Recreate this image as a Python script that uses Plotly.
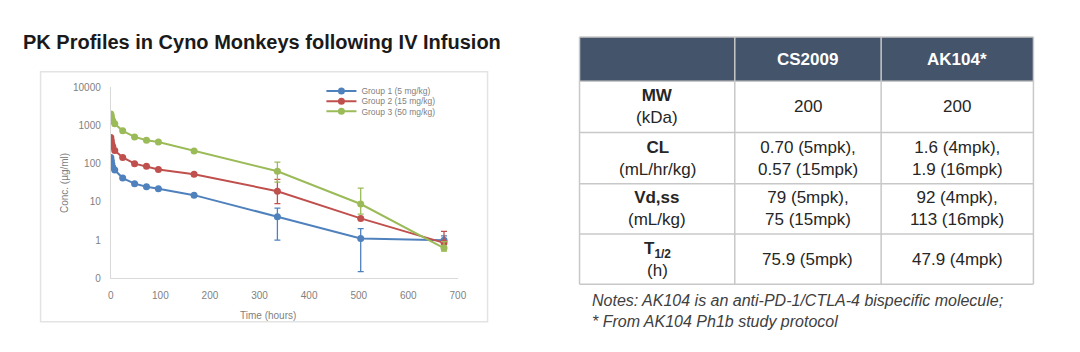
import plotly.graph_objects as go

# ---- Data ----
time_h = [0.083, 1, 2, 4, 8, 24, 48, 72, 96, 168, 336, 504, 672]
group_names = ["Group 1 (5 mg/kg)", "Group 2 (15 mg/kg)", "Group 3 (50 mg/kg)"]
g1_conc = [145, 120, 100, 80, 68, 42, 30, 25, 22, 15, 4.1, 1.1, 1.0]
g2_conc = [480, 400, 330, 280, 220, 145, 100, 85, 70, 53, 19, 3.7, 0.85]
g3_conc = [2000, 1750, 1500, 1300, 1100, 720, 500, 410, 370, 215, 63, 8.8, 0.62]
g1_err_plus = [0, 0, 0, 0, 0, 0, 0, 0, 0, 0, 2.8, 0.9, 0.3]
g1_err_minus = [0, 0, 0, 0, 0, 0, 0, 0, 0, 0, 3.1, 0.95, 0.2]
g2_err_plus = [0, 0, 0, 0, 0, 0, 0, 0, 0, 0, 20, 0, 0.85]
g2_err_minus = [0, 0, 0, 0, 0, 0, 0, 0, 0, 0, 10, 0, 0.2]
g3_err_plus = [0, 0, 0, 0, 0, 0, 0, 0, 0, 0, 47, 14, 0.3]
g3_err_minus = [0, 0, 0, 0, 0, 0, 0, 0, 0, 0, 30, 4, 0.1]

y_tickvals = [0.1, 1, 10, 100, 1000, 10000]
y_ticktext = ["0", "1", "10", "100", "1000", "10000"]
x_tickvals = [0, 100, 200, 300, 400, 500, 600, 700]

table_header = ["", "CS2009", "AK104*"]
table_params = ["<b>MW</b><br>(kDa)", "<b>CL</b><br>(mL/hr/kg)",
                "<b>Vd,ss</b><br>(mL/kg)", "<b>T<sub>1/2</sub></b><br>(h)"]
table_cs2009 = ["200", "0.70 (5mpk),<br>0.57 (15mpk)",
                "79 (5mpk),<br>75 (15mpk)", "75.9 (5mpk)"]
table_ak104 = ["200", "1.6 (4mpk),<br>1.9 (16mpk)",
               "92 (4mpk),<br>113 (16mpk)", "47.9 (4mpk)"]

title_text = "PK Profiles in Cyno Monkeys following IV Infusion"
x_title = "Time (hours)"
y_title = "Conc. (µg/ml)"
notes_text = ("<i>Notes: AK104 is an anti-PD-1/CTLA-4 bispecific molecule;</i><br>"
              "<i>* From AK104 Ph1b study protocol</i>")

colors = ["#4F81BD", "#C0504D", "#9BBB59"]

W, H = 1080, 352
def px_x(p):
    return p / W
def px_y(p):
    return 1 - p / H

fig = go.Figure()
series = [(g1_conc, g1_err_plus, g1_err_minus),
          (g2_conc, g2_err_plus, g2_err_minus),
          (g3_conc, g3_err_plus, g3_err_minus)]
legend_ids = ["legend", "legend2", "legend3"]
for name, (vals, ep, em), c, lg in zip(group_names, series, colors, legend_ids):
    fig.add_trace(go.Scatter(
        x=time_h, y=vals, name=name, mode="lines+markers",
        line=dict(color=c, width=2), marker=dict(color=c, size=7),
        error_y=dict(type="data", array=ep, arrayminus=em, symmetric=False,
                     color=c, thickness=1.3, width=3),
        legend=lg))

# ---- Table drawn with shapes + annotations ----
tbl_x = [583, 740, 888, 1042]
tbl_y = [32, 78, 131, 184, 236, 288]
shapes = []
annotations = []
shapes.append(dict(type="rect", xref="paper", yref="paper",
                   x0=px_x(tbl_x[0]), x1=px_x(tbl_x[-1]),
                   y0=px_y(tbl_y[1]), y1=px_y(tbl_y[0]),
                   fillcolor="#44546A", line=dict(width=0), layer="below"))
cell_line = dict(color="#C8C8C8", width=1.5)
for yy in tbl_y:
    shapes.append(dict(type="line", xref="paper", yref="paper",
                       x0=px_x(tbl_x[0]), x1=px_x(tbl_x[-1]),
                       y0=px_y(yy), y1=px_y(yy), line=cell_line))
for xx in tbl_x:
    shapes.append(dict(type="line", xref="paper", yref="paper",
                       x0=px_x(xx), x1=px_x(xx),
                       y0=px_y(tbl_y[-1]), y1=px_y(tbl_y[0]), line=cell_line))

for j, txt in enumerate(table_header):
    if txt:
        annotations.append(dict(
            text="<b>" + txt + "</b>", xref="paper", yref="paper",
            x=px_x((tbl_x[j] + tbl_x[j + 1]) / 2), y=px_y((tbl_y[0] + tbl_y[1]) / 2),
            xanchor="center", yanchor="middle", showarrow=False,
            font=dict(size=17, color="white")))
columns = [table_params, table_cs2009, table_ak104]
for j, col in enumerate(columns):
    for i, txt in enumerate(col):
        annotations.append(dict(
            text=txt, xref="paper", yref="paper",
            x=px_x((tbl_x[j] + tbl_x[j + 1]) / 2),
            y=px_y((tbl_y[i + 1] + tbl_y[i + 2]) / 2),
            xanchor="center", yanchor="middle", align="center", showarrow=False,
            font=dict(size=17, color="#262626")))

shapes.append(dict(type="rect", xref="paper", yref="paper",
                   x0=px_x(38), x1=px_x(490), y0=px_y(327), y1=px_y(68),
                   line=dict(color="#E3E3E3", width=1.5)))

annotations += [
    dict(text="<b>" + title_text + "</b>", xref="paper", yref="paper",
         x=px_x(18), y=px_y(37), xanchor="left", yanchor="middle",
         showarrow=False, font=dict(size=20, color="#1A1A1A")),
    dict(text=notes_text, xref="paper", yref="paper",
         x=px_x(594), y=px_y(316), xanchor="left", yanchor="middle",
         align="left", showarrow=False,
         font=dict(size=16, color="#404040")),
    dict(text=x_title, xref="paper", yref="paper",
         x=px_x(268), y=px_y(320), xanchor="center", yanchor="middle",
         showarrow=False, font=dict(size=10, color="#7F7F7F")),
    dict(text=y_title, xref="paper", yref="paper", textangle=-90,
         x=px_x(62), y=px_y(183), xanchor="center", yanchor="middle",
         showarrow=False, font=dict(size=10, color="#7F7F7F")),
]

def legend_cfg(ypx):
    return dict(x=px_x(322), y=px_y(ypx), xanchor="left", yanchor="middle",
                font=dict(size=8.5, color="#7F7F7F"), bgcolor="rgba(0,0,0,0)",
                itemwidth=30, borderwidth=0)

fig.update_layout(
    width=W, height=H, margin=dict(l=0, r=0, t=0, b=0),
    paper_bgcolor="white", plot_bgcolor="white",
    font=dict(family="Liberation Sans, Arial"),
    xaxis=dict(domain=[px_x(109), px_x(460)], range=[0, 700], tickvals=x_tickvals,
               showgrid=False, zeroline=False, showline=True, linecolor="#D9D9D9",
               linewidth=1, ticks="", ticklabelstandoff=8,
               tickfont=dict(size=10, color="#7F7F7F")),
    yaxis=dict(domain=[px_y(282), px_y(84)], type="log", range=[-1, 4],
               tickvals=y_tickvals, ticktext=y_ticktext,
               showgrid=False, zeroline=False, showline=True, linecolor="#D9D9D9",
               linewidth=1, ticks="", ticklabelstandoff=7,
               tickfont=dict(size=10, color="#7F7F7F")),
    showlegend=True,
    legend=legend_cfg(88),
    legend2=legend_cfg(98.5),
    legend3=legend_cfg(109),
    shapes=shapes,
    annotations=annotations,
)

fig.write_html("out.html")
